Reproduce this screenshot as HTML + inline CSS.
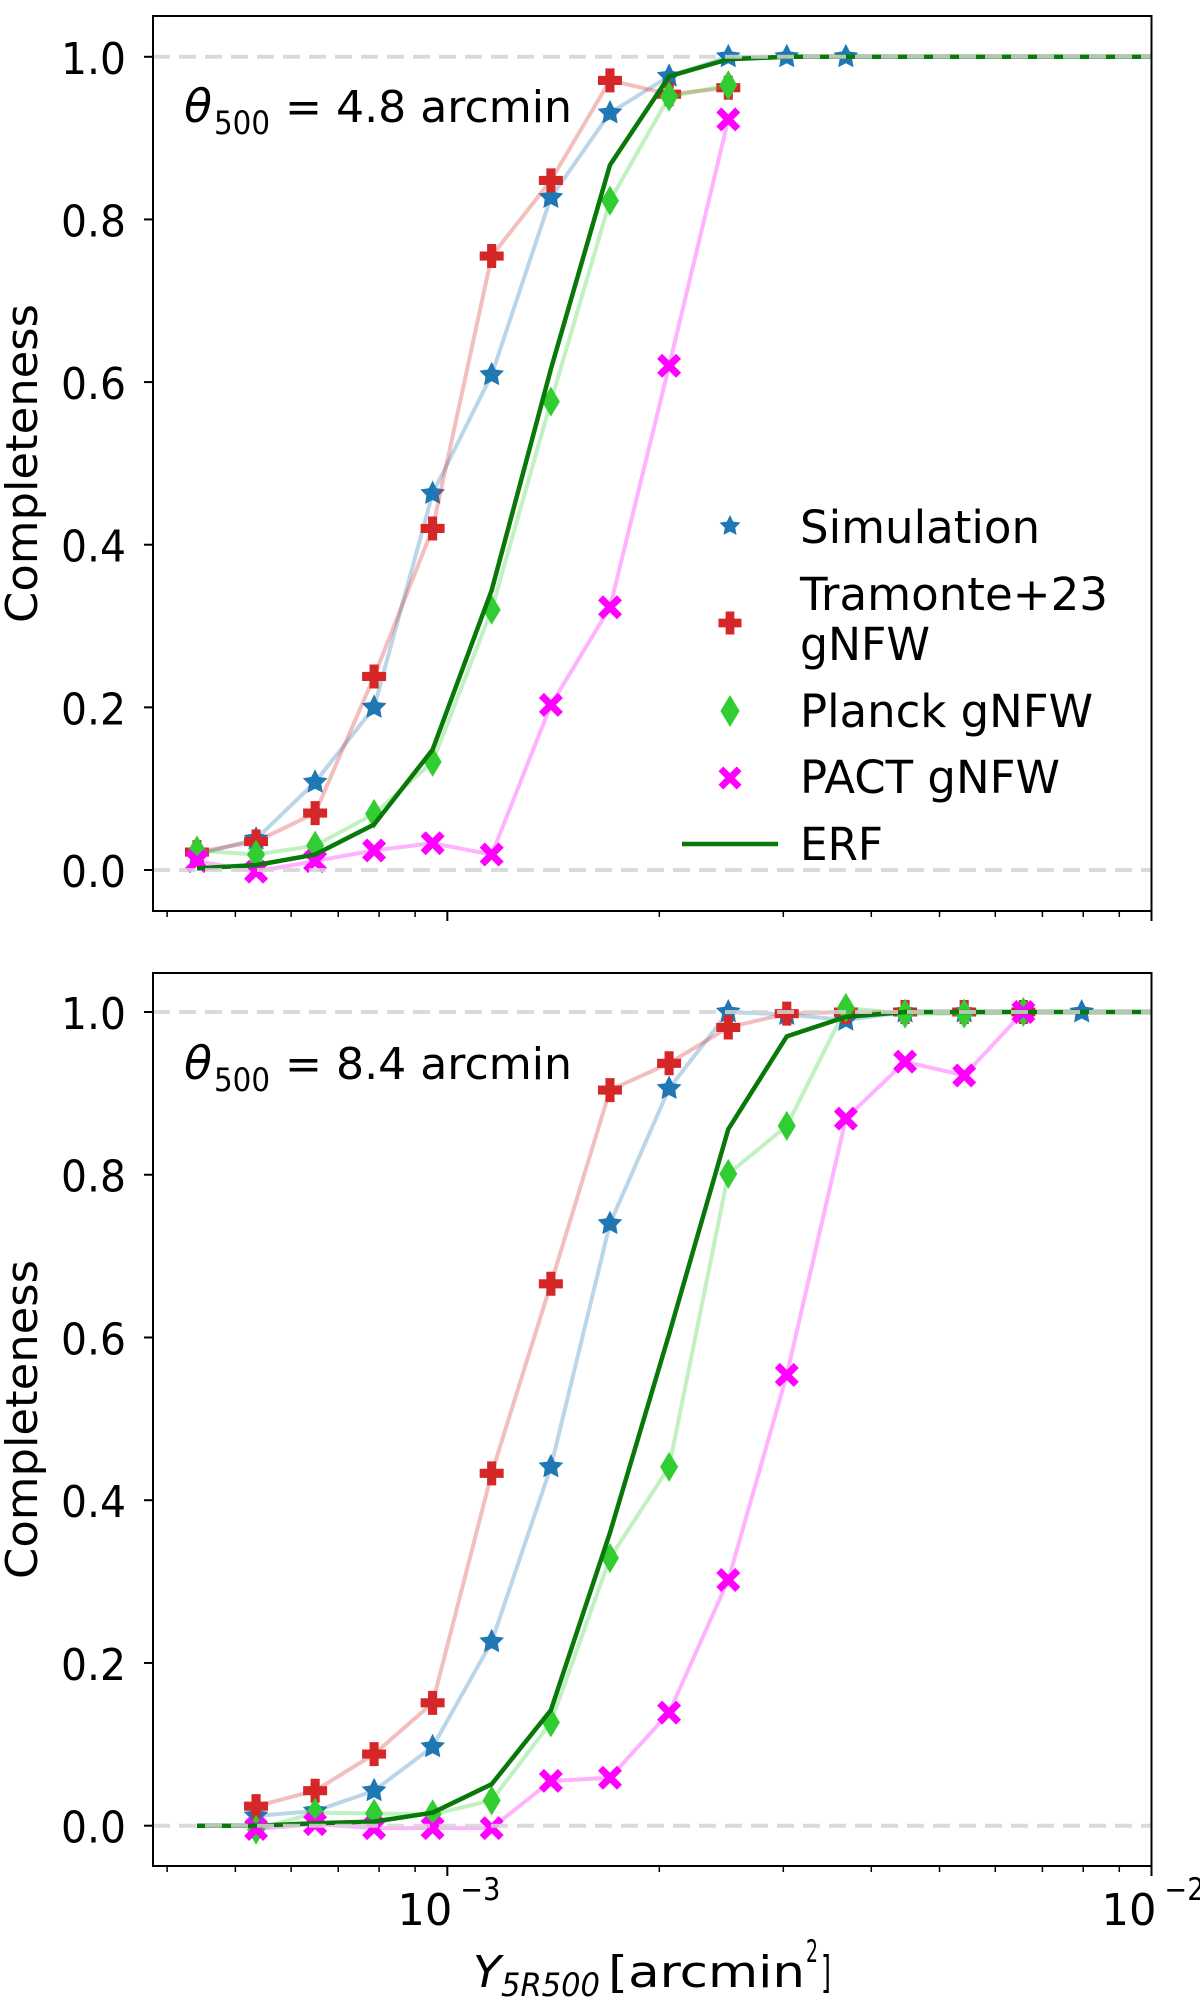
<!DOCTYPE html>
<html><head><meta charset="utf-8">
<style>
html,body{margin:0;padding:0;background:#fff;}
svg{display:block;font-family:"DejaVu Sans","Liberation Sans",sans-serif;}
</style></head>
<body>
<svg id="fig" width="1200" height="1998" viewBox="0 0 1200 1998" xmlns="http://www.w3.org/2000/svg"></svg>
<script>
// ---- data ----
const xValues = [4.41e-4,5.35e-4,6.49e-4,7.87e-4,9.53e-4,1.156e-3,1.403e-3,1.702e-3,2.065e-3,2.506e-3,3.034e-3,3.681e-3,4.467e-3,5.420e-3,6.577e-3,7.96e-3];
const yTicks = [0.0,0.2,0.4,0.6,0.8,1.0];
const yTickLabels = ["0.0","0.2","0.4","0.6","0.8","1.0"];
const xMajorTicks = [1e-3,1e-2];
const xMajorLabels = ["3","2"];
const xMinorTicks = [4e-4,5e-4,6e-4,7e-4,8e-4,9e-4,2e-3,3e-3,4e-3,5e-3,6e-3,7e-3,8e-3,9e-3];

const topSim = [0.019,0.038,0.108,0.200,0.463,0.609,0.827,0.931,0.976,1.0,1.0,1.0];
const topTram = [0.022,0.035,0.070,0.238,0.420,0.755,0.848,0.971,0.954,0.962];
const topPlanck = [0.024,0.019,0.030,0.069,0.133,0.320,0.576,0.823,0.951,0.965];
const topPact = [0.011,-0.002,0.011,0.024,0.033,0.019,0.203,0.323,0.620,0.923];
const topErf = [0.002,0.006,0.019,0.056,0.148,0.344,0.616,0.867,0.976,0.997,1.0,1.0,1.0,1.0,1.0,1.0];

const botSim = [null,0.012,0.018,0.043,0.097,0.226,0.441,0.740,0.906,1.0,0.997,0.990,1.0,1.0,1.0,1.0];
const botTram = [null,0.024,0.043,0.088,0.151,0.433,0.666,0.904,0.937,0.981,0.998,1.0,1.0,1.0,1.0];
const botPlanck = [null,-0.005,0.016,0.015,0.014,0.031,0.127,0.329,0.441,0.801,0.860,1.005,0.998,0.998,1.0];
const botPact = [null,-0.004,0.002,-0.003,-0.003,-0.003,0.055,0.059,0.139,0.302,0.554,0.869,0.939,0.922,1.0];
const botErf = [0.0,0.0,0.003,0.005,0.016,0.051,0.142,0.360,0.604,0.856,0.970,0.994,1.0,1.0,1.0,1.0];

// ---- layout ----
const NS="http://www.w3.org/2000/svg";
const svg=document.getElementById('fig');
const X0=153, X1=1151.5, LOGMIN=-3.418, LOGMAX=-2;
function xs(v){return X0+(Math.log10(v)-LOGMIN)/(LOGMAX-LOGMIN)*(X1-X0);}
function mk(tag,attrs,parent){const e=document.createElementNS(NS,tag);for(const k in attrs)e.setAttribute(k,attrs[k]);(parent||svg).appendChild(e);return e;}
function txt(s,x,y,fs,len,parent,extra){const a={x:x,y:y,'font-size':fs,fill:'#000'};if(len){a.textLength=len;a.lengthAdjust='spacingAndGlyphs';}if(extra)for(const k in extra)a[k]=extra[k];const t=mk('text',a,parent);t.textContent=s;return t;}
const C={sim:'#1f77b4',tram:'#d62728',planck:'#32cd32',pact:'#ff00ff',erf:'#087808'};

function starPath(cx,cy,r){let d='';for(let i=0;i<10;i++){const a=-Math.PI/2+i*Math.PI/5;const rr=i%2?r*0.5:r;d+=(i?'L':'M')+(cx+rr*Math.cos(a)).toFixed(1)+' '+(cy+rr*Math.sin(a)).toFixed(1);}return d+'Z';}
function plusPath(cx,cy,r){const w=r*0.38;return `M${cx-w} ${cy-r}H${cx+w}V${cy-w}H${cx+r}V${cy+w}H${cx+w}V${cy+r}H${cx-w}V${cy+w}H${cx-r}V${cy-w}H${cx-w}Z`;}
function diaPath(cx,cy,r){return `M${cx} ${cy-r}L${cx+r*0.6} ${cy}L${cx} ${cy+r}L${cx-r*0.6} ${cy}Z`;}
function xPath(cx,cy,r){const w=r*0.42;let d='';const pts=[[0,-w],[r-w,-r],[r,-r+w],[w,0],[r,r-w],[r-w,r],[0,w],[-r+w,r],[-r,r-w],[-w,0],[-r,-r+w],[-r+w,-r]];pts.forEach((p,i)=>{d+=(i?'L':'M')+(cx+p[0]).toFixed(1)+' '+(cy+p[1]).toFixed(1);});return d+'Z';}

function panel(name,top,bottom,y0px,y1px,label,sim,tram,planck,pact,erf,showXLabels,legend){
  const g=mk('g',{});
  
  
  const ys=v=>y0px-(y0px-y1px)*v;
  function series(vals,col,alpha,markerFn,r,sname){
    const sg=mk('g',{},g);
    
    
    let pts=[];vals.forEach((v,i)=>{if(v!==null)pts.push([xs(xValues[i]),ys(v)]);});
    const pl=mk('polyline',{points:pts.map(p=>p.join(',')).join(' '),fill:'none',stroke:col,'stroke-opacity':alpha,'stroke-width':4,'stroke-linejoin':'round'},sg);
    
    
    pts.forEach(p=>{const m=mk('path',{d:markerFn(p[0],p[1],r),fill:col},sg);
      
      });
  }
  series(sim,C.sim,0.3,starPath,13,'simulation-series');
  series(tram,C.tram,0.3,plusPath,12,'tramonte-series');
  series(planck,C.planck,0.3,diaPath,15,'planck-series');
  series(pact,C.pact,0.3,xPath,12,'pact-series');
  let ep=erf.map((v,i)=>[xs(xValues[i]),ys(v)]);
  ep.push([X1,ys(erf[erf.length-1])]);
  const el=mk('polyline',{points:ep.map(p=>p.join(',')).join(' '),fill:'none',stroke:C.erf,'stroke-width':4.5,'stroke-linejoin':'round'},g);
  
  
  [0,1].forEach(v=>{const l=mk('line',{x1:X0,x2:X1,y1:ys(v),y2:ys(v),stroke:'#d3d3d3','stroke-opacity':0.85,'stroke-width':4,'stroke-dasharray':'17 9'},g);
    
    });
  const fr=mk('rect',{x:X0,y:top,width:X1-X0,height:bottom-top,fill:'none',stroke:'#000','stroke-width':2},g);
  
  
  yTicks.forEach((v,i)=>{const y=ys(v);
    mk('line',{x1:X0-9,x2:X0,y1:y,y2:y,stroke:'#000','stroke-width':2},g);
    const t=txt(yTickLabels[i],61,y+17,44,65,g);
    
    });
  xMinorTicks.forEach(v=>mk('line',{x1:xs(v),x2:xs(v),y1:bottom,y2:bottom+6,stroke:'#000','stroke-width':1.5},g));
  xMajorTicks.forEach((v,i)=>{mk('line',{x1:xs(v),x2:xs(v),y1:bottom,y2:bottom+10,stroke:'#000','stroke-width':2},g);
    if(showXLabels){const x=xs(v);
      const t=txt('10',x-50,1925,44,55,g);
      
      
      const s=txt('−'+xMajorLabels[i],x+13,1900,31,40,g);
      
      }});
  const cy=(top+bottom)/2;
  const yl=mk('text',{x:0,y:0,transform:`translate(37,${cy}) rotate(-90)`,'text-anchor':'middle','font-size':44,fill:'#000',textLength:319,lengthAdjust:'spacingAndGlyphs'},g);
  yl.textContent='Completeness';
  
  
  const ab=top+106;
  const ag=mk('g',{},g);
  
  
  txt('θ',184,ab,46,28,ag,{'font-style':'italic'});
  txt('500',214,ab+12,32,56,ag);
  txt('= '+label+' arcmin',285,ab,44,287,ag);
  if(legend){
    const lg=mk('g',{},g);
    
    
    const items=[[526,C.sim,starPath,11],[623,C.tram,plusPath,11.5],[711,C.planck,diaPath,16],[778,C.pact,xPath,11.5]];
    items.forEach(it=>{mk('path',{d:it[2](730,it[0],it[3]),fill:it[1]},lg);});
    const tx=[['Simulation',543,240],['Tramonte+23',610,308],['gNFW',660,130],['Planck gNFW',727,293],['PACT gNFW',793,260],['ERF',860,83]];
    tx.forEach(t=>{const e=txt(t[0],800,t[1],45,t[2],lg);
      
      });
    mk('line',{x1:682,x2:778,y1:844,y2:844,stroke:C.erf,'stroke-width':4.5},lg);
  }
}
panel('top-panel',16,911,870,56.8,'4.8',topSim,topTram,topPlanck,topPact,topErf,false,true);
panel('bottom-panel',973,1866,1825.7,1012,'8.4',botSim,botTram,botPlanck,botPact,botErf,true,false);
const xl=mk('g',{});


txt('Y',473,1987,44,28,xl,{'font-style':'italic'});
txt('5R500',501,1996,32,99,xl,{'font-style':'italic'});
txt('[arcmin',608,1987,44,197,xl);
txt('2',806,1962,31,12,xl);
txt(']',821,1987,44,10,xl);
</script>
</body></html>
